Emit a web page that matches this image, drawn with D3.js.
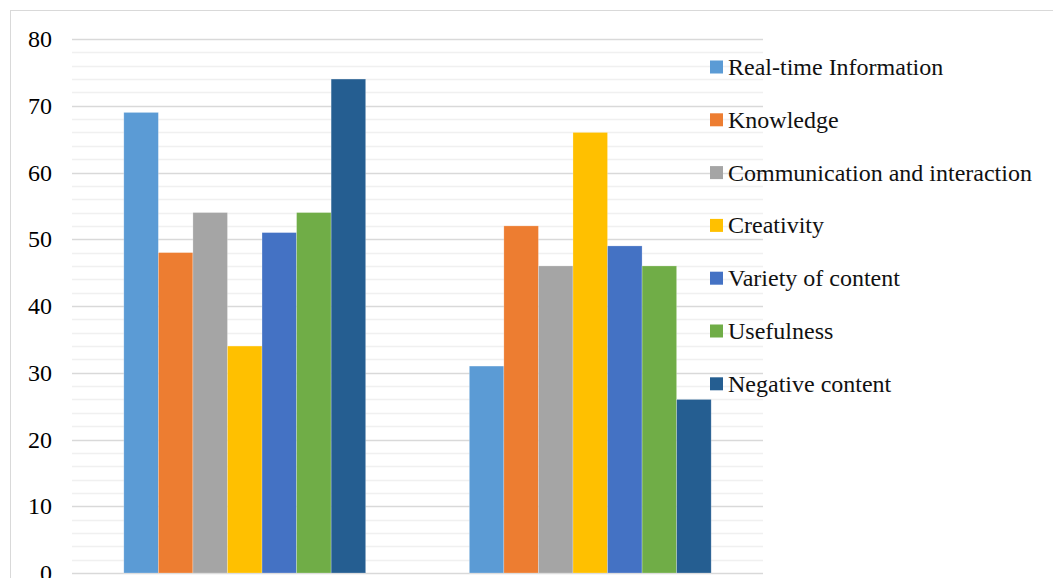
<!DOCTYPE html>
<html>
<head>
<meta charset="utf-8">
<script src="https://cdn.jsdelivr.net/npm/d3@7"></script>
<style>
  body { margin: 0; background: #fff; font-family: 'Times New Roman', 'Liberation Serif', serif; }
</style>
</head>
<body>
<div id="chart"></div>
<script>
// Data
const seriesNames = ["Real-time Information", "Knowledge", "Communication and interaction",
    "Creativity", "Variety of content", "Usefulness", "Negative content"];
const seriesColors = ["#5b9bd5", "#ed7d31", "#a5a5a5", "#ffc000", "#4472c4", "#70ad47", "#255e91"];
const categories = ["Group 1", "Group 2"];
const values = [
    [69, 48, 54, 34, 51, 54, 74],
    [31, 52, 46, 66, 49, 46, 26]
];
const yTicks = [0, 10, 20, 30, 40, 50, 60, 70, 80];

(function() {
    const W = 1053, H = 578;
    const margin = { top: 39, left: 72 };
    const plotW = 691, plotH = 534;
    const serif = "'Times New Roman', 'Liberation Serif', serif";

    const svg = d3.select("#chart").append("svg")
        .attr("width", W).attr("height", H)
        .style("font-family", serif);

    // outer chart border
    svg.append("rect")
        .attr("x", 10.5).attr("y", 10.5)
        .attr("width", W + 10).attr("height", H + 20)
        .attr("fill", "none").attr("stroke", "#d9d9d9").attr("stroke-width", 1);

    const g = svg.append("g").attr("transform", `translate(${margin.left},${margin.top})`);

    const y = d3.scaleLinear().domain([0, 80]).range([plotH, 0]);
    const x0 = d3.scaleBand().domain(categories).range([0, plotW]).paddingInner(0.3).paddingOuter(0.15);
    const x1 = d3.scaleBand().domain(seriesNames).range([0, x0.bandwidth()]);

    // minor gridlines
    g.selectAll(".minor").data(d3.range(2, 80, 2).filter(v => v % 10 !== 0))
        .enter().append("line")
        .attr("x1", 0).attr("x2", plotW)
        .attr("y1", d => Math.round(y(d)) + 0.5).attr("y2", d => Math.round(y(d)) + 0.5)
        .attr("stroke", "#f0f0f0").attr("stroke-width", 1.5);

    // major gridlines
    g.selectAll(".major").data(yTicks)
        .enter().append("line")
        .attr("x1", 0).attr("x2", plotW)
        .attr("y1", d => Math.round(y(d)) + 0.5).attr("y2", d => Math.round(y(d)) + 0.5)
        .attr("stroke", "#d9d9d9").attr("stroke-width", 1.5);

    // y tick labels
    g.selectAll(".ylab").data(yTicks)
        .enter().append("text")
        .attr("x", -20).attr("y", d => y(d))
        .attr("dy", "0.34em")
        .attr("text-anchor", "end")
        .style("font-family", serif)
        .style("font-size", "24px")
        .attr("fill", "#000")
        .text(d => d);

    // bars
    const groups = g.selectAll(".grp").data(categories)
        .enter().append("g")
        .attr("transform", d => `translate(${x0(d)},0)`);

    groups.selectAll("rect")
        .data((d, i) => values[i].map((v, j) => ({ name: seriesNames[j], value: v, color: seriesColors[j] })))
        .enter().append("rect")
        .attr("x", d => x1(d.name))
        .attr("width", x1.bandwidth())
        .attr("y", d => y(d.value))
        .attr("height", d => plotH - y(d.value))
        .attr("fill", d => d.color)
        .attr("stroke", "#ffffff").attr("stroke-opacity", 0.4).attr("stroke-width", 0.6);

    // legend
    const legend = svg.selectAll(".legend").data(seriesNames)
        .enter().append("g")
        .attr("transform", (d, i) => `translate(710,${67 + i * 52.8})`);

    legend.append("rect")
        .attr("x", 0).attr("y", -6.5)
        .attr("width", 13).attr("height", 13)
        .attr("fill", (d, i) => seriesColors[i]);

    legend.append("text")
        .attr("x", 18).attr("y", 0)
        .attr("dy", "0.33em")
        .style("font-family", serif)
        .style("font-size", "24px")
        .attr("fill", "#111")
        .text(d => d);
})();
</script>
</body>
</html>
